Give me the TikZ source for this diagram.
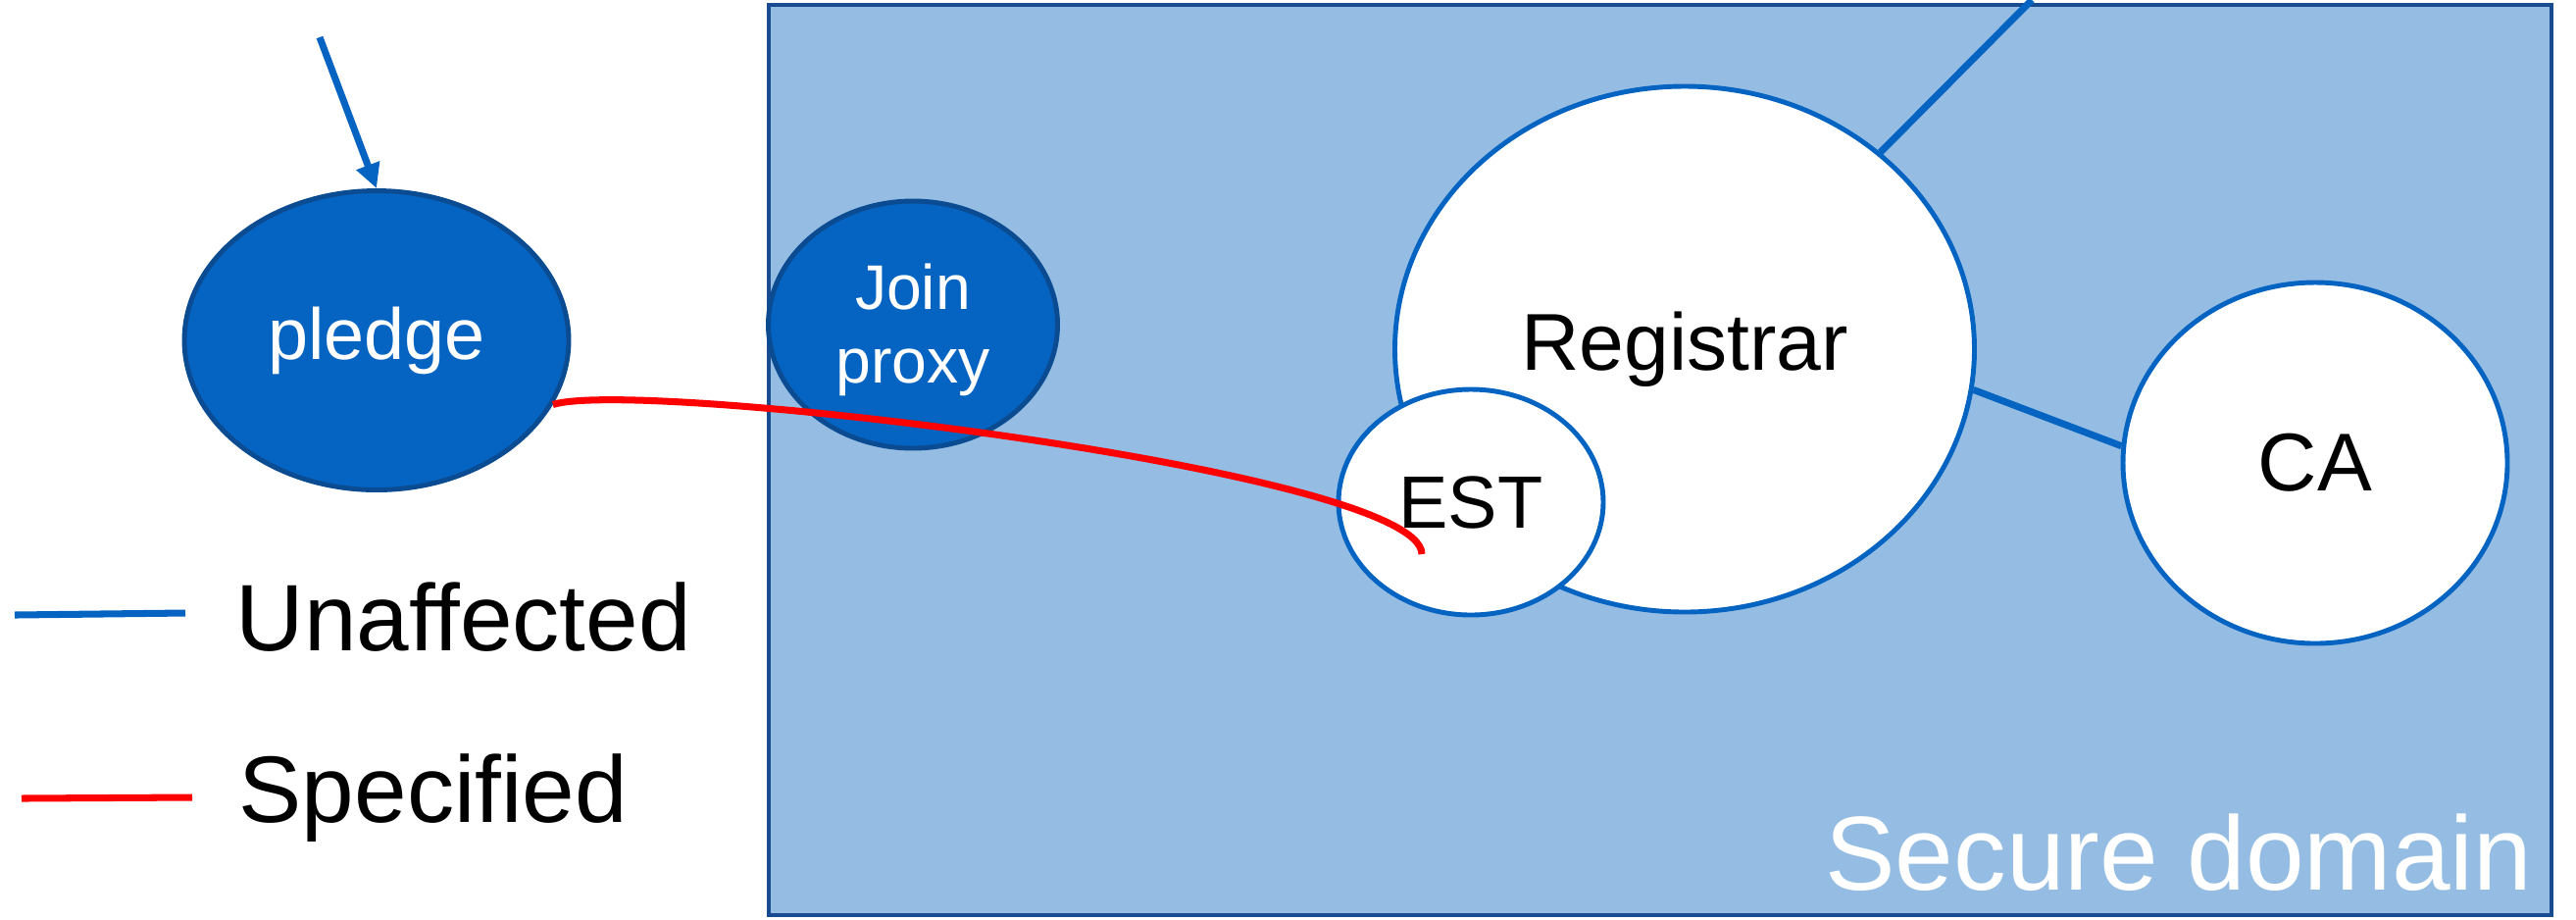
\documentclass[tikz,border=0pt]{standalone}
\usepackage{fontspec}
\setmainfont{Liberation Sans}
\usepackage{tikz}
\usetikzlibrary{arrows.meta,positioning,shapes.geometric}
\definecolor{domblue}{RGB}{149,189,227}
\definecolor{domedge}{RGB}{25,75,145}
\definecolor{devblue}{RGB}{5,99,193}
\definecolor{devedge}{RGB}{10,75,145}
\definecolor{specred}{RGB}{255,0,0}

\begin{document}
\begin{tikzpicture}[
  device/.style={ellipse, draw=devedge, fill=devblue, line width=1.4pt,
                 inner sep=0pt, text=white},
  server/.style={ellipse, draw=devblue, fill=white, line width=1.4pt,
                 inner sep=0pt, text=black},
  unaffected/.style={devblue, line width=2pt},
  specified/.style={specred, line width=2pt},
  legendtext/.style={anchor=base west, inner sep=0pt,
                     font=\fontsize{27.4}{33}\selectfont}]
  \useasboundingbox (0,0) rectangle (26.27,-9.37);
  % Secure domain
  \draw[domedge, fill=domblue, line width=1.4pt] (7.84,-0.05) rectangle (26.02,-9.33);
  \node[anchor=base east, inner sep=0pt, text=white, font=\fontsize{30.5}{36}\selectfont]
    (domain) at (25.83,-9.07) {Secure domain};
  % Devices
  \node[device, minimum width=3.92cm, minimum height=3.05cm,
        font=\fontsize{21}{25}\selectfont] (pledge) at (3.84,-3.47) {pledge};
  \node[device, minimum width=2.95cm, minimum height=2.52cm,
        font=\fontsize{18.3}{21.3}\selectfont] (proxy) at (9.31,-3.31)
    {\raisebox{-0.59cm}[0pt][0pt]{\begin{tabular}[b]{@{}c@{}}Join\\proxy\end{tabular}}};
  \node[server, minimum width=5.91cm, minimum height=5.36cm,
        font=\fontsize{23.4}{28}\selectfont] (registrar) at (17.18,-3.56) {Registrar};
  \node[server, minimum width=2.70cm, minimum height=2.30cm,
        font=\fontsize{21.5}{25}\selectfont] (est) at (15.00,-5.12) {EST};
  \node[server, minimum width=3.92cm, minimum height=3.68cm,
        font=\fontsize{23.8}{28}\selectfont] (ca) at (23.61,-4.72) {CA};
  % Connectors
  \coordinate (maker) at (3.26,-0.38);
  \coordinate (exitup) at (20.72,0);
  \coordinate (estend) at (14.50,-5.65);
  \draw[unaffected, -{Triangle[length=0.25cm,width=0.24cm]}] (maker) -- (pledge.north);
  \draw[unaffected] (registrar) -- (exitup);
  \draw[unaffected] (registrar.-8) -- (ca.175);
  \draw[specified] (pledge.-20) .. controls (6.50,-3.85) and (14.50,-4.80) .. (estend);
  % Legend
  \coordinate (ua) at (0.15,-6.27);
  \coordinate (ub) at (1.89,-6.25);
  \coordinate (sa) at (0.22,-8.14);
  \coordinate (sb) at (1.96,-8.13);
  \draw[unaffected] (ua) -- (ub);
  \draw[specified] (sa) -- (sb);
  \node[legendtext] (unaff) at (2.40,-6.63) {Unaffected};
  \node[legendtext] (spec) at (2.43,-8.38) {Specified};
\end{tikzpicture}
\end{document}
